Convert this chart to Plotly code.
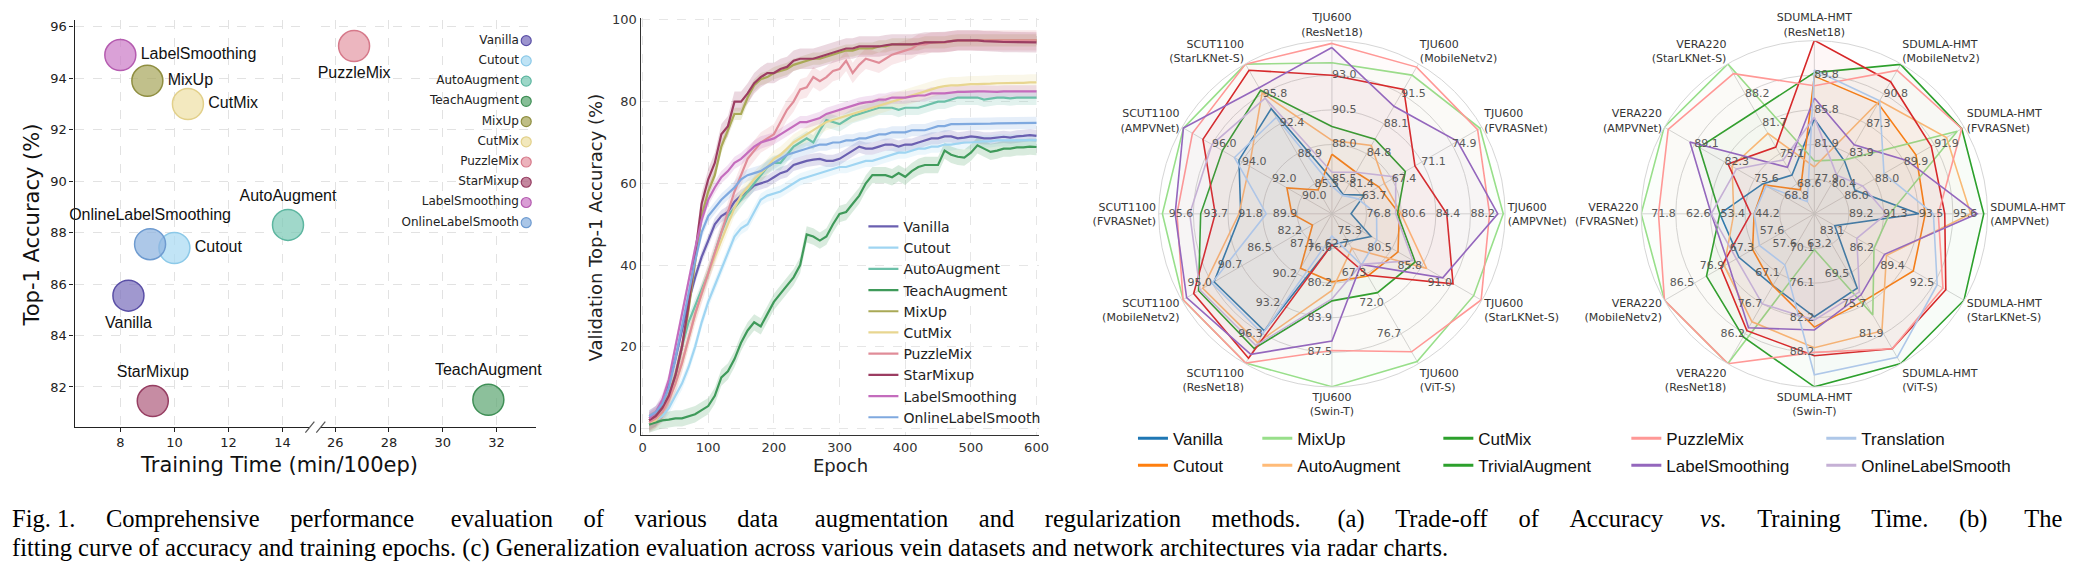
import plotly.graph_objects as go

W, H = 2075, 578
def PX(x): return x / W
def PY(y): return 1 - y / H

SANS = "DejaVu Sans"
ARIAL = "Liberation Sans"
SERIF = "Liberation Serif"

def rgba(h, a):
    h = h.lstrip('#')
    return f"rgba({int(h[0:2],16)},{int(h[2:4],16)},{int(h[4:6],16)},{a})"

# ---------------- Panel (a): accuracy vs training time ----------------
a_names = ["Vanilla", "Cutout", "AutoAugment", "TeachAugment", "MixUp", "CutMix",
           "PuzzleMix", "StarMixup", "LabelSmoothing", "OnlineLabelSmooth"]
a_point_labels = ["Vanilla", "Cutout", "AutoAugment", "TeachAugment", "MixUp", "CutMix",
                  "PuzzleMix", "StarMixup", "LabelSmoothing", "OnlineLabelSmoothing"]
a_time = [8.3, 10.0, 14.2, 31.7, 9.0, 10.5, 26.7, 9.2, 8.0, 9.1]
a_acc = [85.55, 87.4, 88.3, 81.5, 93.9, 93.0, 95.25, 81.45, 94.9, 87.55]
a_fill = ["#7b70bd", "#a9d9f2", "#7cc9b6", "#5fa874", "#a9a85e", "#eee0a6",
          "#e59aa6", "#b0607f", "#cc7dc7", "#8db3df"]
a_edge = ["#5a4fa6", "#8cc9e8", "#5db6a0", "#3f8f56", "#8f8e40", "#e2d08a",
          "#d6798a", "#963e62", "#b55cb0", "#6e9bd0"]
a_textpos = ["bottom center", "middle right", "top center", "top center", "middle right",
             "middle right", "bottom center", "top center", "middle right", "top center"]
a_xticks_left = [8, 10, 12, 14]
a_xticks_right = [26, 28, 30, 32]
a_yticks = [82, 84, 86, 88, 90, 92, 94, 96]

# ---------------- Panel (b): accuracy vs epoch ----------------
b_epochs = list(range(10, 601, 10))
b_names = ["Vanilla", "Cutout", "AutoAugment", "TeachAugment", "MixUp", "CutMix",
           "PuzzleMix", "StarMixup", "LabelSmoothing", "OnlineLabelSmooth"]
b_colors = ["#6a5fb0", "#9fd5f2", "#6cc0a8", "#3f9a5a", "#a9a956", "#e8d690",
            "#e08c98", "#9c3d62", "#c46cbd", "#7fa9df"]
b_vanilla = [2, 3, 6, 11, 17, 24, 31, 37, 42, 46, 50, 52, 53, 55.5, 57, 58, 59.5, 60, 60.5, 61.5,
             62.5, 63, 64.5, 65, 65.5, 65.8, 66, 65.5, 65.5, 66, 67, 68, 69, 68.5, 68.5, 69, 69.5, 69.5, 69, 69.5,
             69.5, 70, 70.5, 71, 71, 71.5, 71.5, 71, 71.2, 71.5, 71.3, 71, 71, 71.2, 71.4, 71.2, 71.5, 71.6, 71.8, 71.6]
b_cutout = [1.5, 2, 3, 5, 8, 11, 15, 20, 26, 31, 35, 39, 43, 47, 49, 50, 53, 56, 57, 57.5,
            58, 59, 60, 61, 61.5, 62, 62.5, 63, 63.5, 64, 64, 64.5, 65, 65.5, 65.5, 66, 66.5, 67, 67.5, 67.5,
            68, 68.5, 68.5, 69, 69, 69.5, 69.5, 69.8, 70, 70, 70.2, 70.3, 70.3, 70.5, 70.5, 70.5, 70.6, 70.6, 70.6, 70.6]
b_autoaug = [1, 2, 4, 8, 13, 20, 26, 30, 34, 38, 43, 48, 52, 54, 56, 58, 60, 62, 64, 65,
             65, 67, 69, 70, 71, 70, 73, 75.5, 75, 74.5, 75.5, 76.5, 77, 77.5, 78, 78.5, 78.5, 78.5, 78, 78.5,
             78.5, 78.5, 79, 79.5, 80, 80, 80.5, 81, 81, 81, 81, 80.5, 80.8, 81, 81, 80.8, 81, 81, 81, 81]
b_teach = [1, 1.5, 2, 2.2, 2.5, 2.5, 3, 3.5, 4.5, 5.5, 8, 12.5, 14, 17, 21, 24, 26, 25, 28, 31,
           33, 35, 37, 40, 47.5, 47, 46, 47, 50, 52.5, 53, 55, 57, 60, 62, 62, 62, 61.5, 62.5, 61.6,
           63, 64, 64.5, 64.5, 64.5, 68, 67, 66.5, 66.3, 67.5, 69.3, 68.5, 67.7, 68, 68.5, 68.5, 68.8, 68.8, 69, 68.9]
b_mixup = [2, 3, 5, 8, 13, 20, 29, 40, 52, 58, 62, 69, 73, 77, 77, 81, 84, 85.5, 86, 87,
           87.5, 88, 89, 89.5, 90, 90.5, 90.5, 91, 91.5, 92, 92.5, 92.5, 93, 93, 93, 93.5, 93.5, 94, 94, 94,
           94, 94, 94.5, 94.5, 94.5, 94.5, 94.8, 95, 95, 95, 95, 95, 95, 95, 95, 95, 95, 95, 95, 95]
b_cutmix = [1.5, 2, 4, 7, 11, 16, 22, 28, 33, 38, 42, 46, 50, 54, 57, 59, 61, 62.5, 64, 66,
            67, 68.5, 70, 71, 72, 73, 74, 75, 75.5, 76, 76.5, 77, 77.5, 78, 78.5, 79, 79.5, 80, 80.5, 81,
            81.5, 82, 82.5, 83, 83.5, 83.8, 84, 84, 84.2, 84.3, 84.3, 84.3, 84.4, 84.5, 84.5, 84.5, 84.6, 84.6, 84.7, 84.7]
b_puzzle = [1.5, 2.5, 4, 7, 11, 16, 22, 28, 33, 38, 43, 48, 53, 58, 62, 66, 68, 70, 71, 72,
            75, 78, 80, 83, 83.5, 86, 85, 86, 87.5, 88, 90, 87, 89, 90.5, 90, 89.5, 90.5, 91.5, 92, 92.5,
            93, 94, 94, 94.5, 94.5, 94.5, 94.8, 95, 95, 95, 95, 95, 95, 95, 95, 95, 95, 95, 95, 95]
b_starmix = [2, 3, 5, 8, 13, 20, 30, 42, 55, 61, 65, 72, 74, 80, 80, 82, 84.5, 86, 87, 87,
             88, 88.5, 90, 90.5, 90.5, 90.5, 91, 91.5, 92, 92.5, 93, 93, 93.5, 93.5, 93.5, 93.5, 93.8, 94, 94, 94,
             94, 94.2, 94.5, 94.5, 94.5, 94.6, 94.8, 95, 95, 95, 95, 94.8, 94.8, 94.7, 94.6, 94.6, 94.6, 94.5, 94.5, 94.5]
b_labelsm = [2.5, 4, 7, 12, 20, 28, 36, 44, 51, 56, 59, 61.5, 63, 65, 66, 67.5, 69, 70, 70.5, 71,
             72, 73, 74, 75, 75, 75.5, 76, 77, 77.5, 78, 78.5, 79, 79.5, 79.8, 80, 80.5, 80.5, 81, 81, 81,
             81.3, 81.5, 81.5, 82, 82, 82, 82.2, 82.4, 82.4, 82.5, 82.5, 82.5, 82.4, 82.4, 82.5, 82.5, 82.5, 82.5, 82.5, 82.5]
b_onlinels = [3, 4, 6, 10, 17, 25, 33, 41, 48, 52, 54, 56, 57.5, 59, 61, 62, 62.5, 63, 64, 65,
              66, 67, 67.5, 68, 68.5, 69, 69.5, 69.5, 70, 70, 70.5, 70.5, 71, 71, 71.5, 72, 72, 72.5, 72.5, 72.5,
              73, 73, 73, 73.5, 74, 74, 74.5, 74.5, 74.5, 74.5, 74.6, 74.6, 74.6, 74.7, 74.7, 74.7, 74.8, 74.8, 74.8, 74.8]
b_series = [b_vanilla, b_cutout, b_autoaug, b_teach, b_mixup, b_cutmix, b_puzzle, b_starmix, b_labelsm, b_onlinels]
b_std = [1.5, 1.5, 1.8, 2.0, 1.5, 2.0, 2.5, 2.5, 1.5, 1.5]

# ---------------- Panel (c): radar charts ----------------
r_methods = ["Vanilla", "Cutout", "MixUp", "AutoAugment", "CutMix", "TrivialAugment",
             "PuzzleMix", "LabelSmoothing", "Translation", "OnlineLabelSmooth"]
r_line_colors = ["#1f77b4", "#ff7f0e", "#98df8a", "#ffbb78", "#2ca02c", "#d62728",
                 "#ff9896", "#9467bd", "#aec7e8", "#c5b0d5"]
r_legend_colors = ["#1f77b4", "#ff7f0e", "#98df8a", "#ffbb78", "#2ca02c", "#2ca02c",
                   "#ff9896", "#9467bd", "#aec7e8", "#c5b0d5"]

r1_axes = ["TJU600<br>(ResNet18)", "TJU600<br>(MobileNetv2)", "TJU600<br>(FVRASNet)", "TJU600<br>(AMPVNet)",
           "TJU600<br>(StarLKNet-S)", "TJU600<br>(ViT-S)", "TJU600<br>(Swin-T)", "SCUT1100<br>(ResNet18)",
           "SCUT1100<br>(MobileNetv2)", "SCUT1100<br>(FVRASNet)", "SCUT1100<br>(AMPVNet)", "SCUT1100<br>(StarLKNet-S)"]
r1_ticks = [[85.5, 88.0, 90.5, 93.0], [81.4, 84.8, 88.1, 91.5], [63.7, 67.4, 71.1, 74.9], [76.8, 80.6, 84.4, 88.2],
            [75.3, 80.5, 85.8, 91.0], [62.7, 67.3, 72.0, 76.7], [76.6, 80.2, 83.9, 87.5], [87.1, 90.2, 93.2, 96.3],
            [82.2, 86.5, 90.7, 95.0], [89.9, 91.8, 93.7, 95.6], [90.0, 92.0, 94.0, 96.0], [85.5, 88.9, 92.4, 95.8]]
r1_values = [
    [85.5, 80.2, 64.0, 75.1, 76.9, 62.3, 76.2, 96.0, 94.7, 93.0, 94.2, 94.1],   # Vanilla
    [87.3, 82.7, 65.8, 80.4, 81.6, 67.7, 80.1, 89.6, 80.7, 90.2, 91.0, 84.8],   # Cutout
    [93.9, 93.6, 78.4, 91.8, 94.8, 81.0, 91.1, 99.3, 99.1, 97.3, 97.9, 99.2],   # MixUp
    [88.3, 85.7, 66.5, 80.6, 86.6, 63.4, 81.0, 97.2, 96.3, 93.1, 93.5, 95.9],   # AutoAugment
    [89.3, 86.4, 69.1, 80.2, 84.6, 70.3, 82.1, 97.8, 96.9, 95.2, 95.3, 96.2],   # CutMix
    [93.0, 92.0, 70.3, 85.6, 91.2, 67.6, 76.2, 98.8, 97.6, 94.4, 96.6, 98.5],   # TrivialAugment
    [95.3, 94.5, 78.1, 90.3, 96.1, 79.5, 87.3, 99.3, 99.1, 96.5, 97.3, 99.2],   # PuzzleMix
    [95.0, 90.1, 75.6, 91.2, 89.4, 65.9, 86.3, 98.4, 98.6, 96.6, 97.9, 96.5],   # LabelSmoothing
    [85.0, 80.1, 63.2, 77.9, 77.9, 66.0, 75.3, 96.3, 95.0, 91.6, 94.5, 93.1],   # Translation
    [86.0, 82.7, 67.9, 80.0, 84.2, 65.9, 81.9, 97.5, 96.7, 95.8, 96.0, 95.3],   # OnlineLabelSmooth
]

r2_axes = ["SDUMLA-HMT<br>(ResNet18)", "SDUMLA-HMT<br>(MobileNetv2)", "SDUMLA-HMT<br>(FVRASNet)",
           "SDUMLA-HMT<br>(AMPVNet)", "SDUMLA-HMT<br>(StarLKNet-S)", "SDUMLA-HMT<br>(ViT-S)",
           "SDUMLA-HMT<br>(Swin-T)", "VERA220<br>(ResNet18)", "VERA220<br>(MobileNetv2)",
           "VERA220<br>(FVRASNet)", "VERA220<br>(AMPVNet)", "VERA220<br>(StarLKNet-S)"]
r2_ticks = [[77.9, 81.9, 85.8, 89.8], [80.4, 83.9, 87.3, 90.8], [86.0, 88.0, 89.9, 91.9], [89.2, 91.3, 93.5, 95.6],
            [83.1, 86.2, 89.4, 92.5], [63.2, 69.5, 75.7, 81.9], [70.1, 76.1, 82.2, 88.2], [57.6, 67.1, 76.7, 86.2],
            [57.6, 67.3, 76.9, 86.5], [44.2, 53.4, 62.6, 71.8], [68.8, 75.6, 82.3, 89.1], [68.6, 75.1, 81.7, 88.2]]
r2_values = [
    [84.8, 83.0, 86.7, 93.5, 82.1, 72.4, 82.0, 70.9, 72.2, 60.1, 73.7, 70.5],   # Vanilla
    [89.7, 89.7, 90.7, 93.9, 90.3, 75.0, 83.8, 70.9, 67.8, 51.0, 73.3, 67.3],   # Cutout
    [80.0, 83.2, 93.4, 91.7, 86.2, 78.0, 70.3, 95.7, 96.1, 81.0, 95.9, 94.7],   # MixUp
    [79.3, 90.0, 92.7, 96.7, 87.5, 81.3, 87.4, 82.4, 76.9, 56.4, 80.6, 79.6],   # AutoAugment
    [90.1, 94.2, 93.7, 97.5, 95.6, 88.1, 94.2, 87.2, 82.6, 60.1, 88.0, 84.4],   # CutMix
    [93.8, 92.2, 91.7, 95.1, 93.7, 85.0, 88.8, 85.2, 78.0, 51.9, 81.5, 76.6],   # TrivialAugment
    [88.6, 93.5, 93.7, 94.7, 93.4, 85.0, 88.2, 95.7, 96.1, 76.4, 95.0, 92.6],   # PuzzleMix
    [87.2, 84.9, 90.1, 97.1, 87.3, 73.8, 84.3, 84.3, 75.6, 62.4, 90.1, 72.2],   # LabelSmoothing
    [90.4, 90.0, 88.6, 94.4, 92.8, 86.8, 92.1, 64.3, 65.6, 51.0, 72.9, 64.7],   # Translation
    [85.0, 81.4, 87.2, 91.5, 84.4, 73.2, 82.6, 76.7, 73.0, 62.4, 79.6, 73.8],   # OnlineLabelSmooth
]

caption_head = "Fig. 1."
caption_1 = ("Comprehensive performance evaluation of various data augmentation and regularization "
             "methods. (a) Trade-off of Accuracy <i>vs.</i> Training Time. (b) The")
caption_2 = ("fitting curve of accuracy and training epochs. (c) Generalization evaluation across various "
             "vein datasets and network architectures via radar charts.")

fig = go.Figure()

# ---------- Panel (a) traces ----------
for side, xa, ya in (("left", "x", "y"), ("right", "x2", "y2")):
    idx = [i for i in range(len(a_names)) if (a_time[i] < 20) == (side == "left")]
    fig.add_trace(go.Scatter(
        x=[a_time[i] for i in idx], y=[a_acc[i] for i in idx],
        mode="markers+text", text=[a_point_labels[i] for i in idx],
        textposition=[a_textpos[i] for i in idx],
        textfont=dict(family=ARIAL, size=16, color="#111"),
        marker=dict(size=31, color=[rgba(a_fill[i], 0.72) for i in idx],
                    line=dict(color=[a_edge[i] for i in idx], width=1.5)),
        xaxis=xa, yaxis=ya, showlegend=False, cliponaxis=False, hoverinfo="skip"))

# custom legend for panel (a): label on the left, marker on the right
fig.add_trace(go.Scatter(
    x=[0] * len(a_names), y=list(range(len(a_names))), mode="markers+text",
    text=a_names, textposition="middle left",
    textfont=dict(family=SANS, size=12, color="#222"),
    marker=dict(size=10, color=[rgba(c, 0.75) for c in a_fill],
                line=dict(color=a_edge, width=1.2)),
    xaxis="x3", yaxis="y3", showlegend=False, cliponaxis=False, hoverinfo="skip"))

# ---------- Panel (b) traces ----------
for name, col, vals, sd in zip(b_names, b_colors, b_series, b_std):
    upper = [v + sd for v in vals]
    lower = [v - sd for v in vals]
    fig.add_trace(go.Scatter(
        x=b_epochs + b_epochs[::-1], y=upper + lower[::-1], fill="toself",
        fillcolor=rgba(col, 0.2), line=dict(width=0), mode="lines",
        xaxis="x4", yaxis="y4", showlegend=False, hoverinfo="skip", legendgroup=name))
for name, col, vals in zip(b_names, b_colors, b_series):
    fig.add_trace(go.Scatter(
        x=b_epochs, y=vals, mode="lines", name=name, line=dict(color=col, width=2.2),
        xaxis="x4", yaxis="y4", legendgroup=name, legend="legend"))

# ---------- Panel (c) traces ----------
def ring(v, t):
    return 1 + 3 * (v - t[0]) / (t[3] - t[0])

for subplot, axes, ticks, values in (("polar", r1_axes, r1_ticks, r1_values),
                                     ("polar2", r2_axes, r2_ticks, r2_values)):
    for m, col, vals in zip(r_methods, r_line_colors, values):
        rr = [ring(v, t) for v, t in zip(vals, ticks)]
        fig.add_trace(go.Scatterpolar(
            r=rr + rr[:1], theta=axes + axes[:1], mode="lines", fill="toself",
            fillcolor=rgba(col, 0.035), line=dict(color=col, width=1.6),
            subplot=subplot, showlegend=False, hoverinfo="skip"))
    # per-axis scale labels
    tr, tth, ttx, tpos = [], [], [], []
    n = len(axes)
    for i, (ax, t) in enumerate(zip(axes, ticks)):
        ang = (90 - 360 * i / n) % 360
        pos = "middle right" if ang < 180 else "middle left"
        for val in t:
            tr.append(ring(val, t))
            tth.append(ax)
            ttx.append(f"{val:.1f}")
            tpos.append(pos)
    fig.add_trace(go.Scatterpolar(
        r=tr, theta=tth, text=ttx, mode="text", textposition=tpos,
        textfont=dict(family=SANS, size=11, color="#5a5a5a"),
        subplot=subplot, showlegend=False, hoverinfo="skip", cliponaxis=False))

# radar legend entries (5 columns x 2 rows)
legend_cols = [["Vanilla", "Cutout"], ["MixUp", "AutoAugment"], ["CutMix", "TrivialAugment"],
               ["PuzzleMix", "LabelSmoothing"], ["Translation", "OnlineLabelSmooth"]]
legend_x = [1142, 1267, 1449, 1638, 1834]
for ci, col_items in enumerate(legend_cols):
    lg = f"legend{ci + 2}"
    for m in col_items:
        j = r_methods.index(m)
        fig.add_trace(go.Scatterpolar(
            r=[None], theta=[r1_axes[0]], mode="lines", name=m,
            line=dict(color=r_legend_colors[j], width=3), subplot="polar",
            legend=lg, legendgroup=m, showlegend=True, hoverinfo="skip"))

# ---------- Layout ----------
grid = "#e2e2e2"
axis_common = dict(showline=True, linecolor="#222", linewidth=1.3, ticks="outside", ticklen=4,
                   tickcolor="#222", showgrid=True, gridcolor=grid, griddash="dash", zeroline=False,
                   tickfont=dict(family=SANS, size=13, color="#222"))

def polar_layout(xdom, cats):
    return dict(
        domain=dict(x=xdom, y=[PY(386), PY(36)]),
        bgcolor="rgba(0,0,0,0)", gridshape="circular",
        radialaxis=dict(range=[0, 5], tickvals=[1, 2, 3, 4, 5], showticklabels=False, ticks="",
                        showline=False, gridcolor="#d6d6d6", gridwidth=1),
        angularaxis=dict(direction="clockwise", rotation=90, type="category", categoryorder="array",
                         categoryarray=cats, tickfont=dict(family=SANS, size=11, color="#333"),
                         gridcolor="#d6d6d6", linecolor="#d6d6d6", showline=True, ticks=""))

layout = dict(
    width=W, height=H, margin=dict(l=0, r=0, t=0, b=0),
    paper_bgcolor="white", plot_bgcolor="rgba(0,0,0,0)",
    xaxis=dict(domain=[PX(73), PX(309)], range=[6.31, 14.99], tickvals=a_xticks_left, anchor="y", **axis_common),
    yaxis=dict(domain=[PY(426), PY(15)], range=[80.46, 96.27], tickvals=a_yticks, anchor="x", **axis_common),
    xaxis2=dict(domain=[PX(321), PX(537)], range=[25.48, 33.48], tickvals=a_xticks_right, anchor="y2", **axis_common),
    yaxis2=dict(domain=[PY(426), PY(15)], range=[80.46, 96.27], tickvals=a_yticks, anchor="x2",
                showticklabels=False, showline=False, ticks="", showgrid=True, gridcolor=grid,
                griddash="dash", zeroline=False),
    xaxis3=dict(domain=[PX(300), PX(527)], range=[-1, 0], anchor="y3", visible=False),
    yaxis3=dict(domain=[PY(220), PY(36)], range=[9, 0], anchor="x3", visible=False),
    xaxis4=dict(domain=[PX(642), PX(1043)], range=[-3, 604.5], tickvals=[0, 100, 200, 300, 400, 500, 600],
                anchor="y4", showline=True, linecolor="#333", linewidth=1.3, ticks="",
                showgrid=True, gridcolor="#e6e6e6", griddash="dash", zeroline=False,
                tickfont=dict(family=SANS, size=13, color="#333")),
    yaxis4=dict(domain=[PY(435), PY(13)], range=[-1.7, 100.5], tickvals=[0, 20, 40, 60, 80, 100],
                anchor="x4", showline=True, linecolor="#333", linewidth=1.3, ticks="",
                showgrid=True, gridcolor="#e6e6e6", griddash="dash", zeroline=False,
                tickfont=dict(family=SANS, size=13, color="#333")),
    polar=polar_layout([PX(1162), PX(1512)], r1_axes),
    polar2=polar_layout([PX(1647), PX(1997)], r2_axes),
    legend=dict(x=PX(866), y=PY(208), xanchor="left", yanchor="top", bgcolor="rgba(0,0,0,0)",
                font=dict(family=SANS, size=14, color="#222"), tracegroupgap=0),
    showlegend=True,
)
for ci, xx in enumerate(legend_x):
    layout[f"legend{ci + 2}"] = dict(x=PX(xx - 5), y=PY(420), xanchor="left", yanchor="top",
                                     bgcolor="rgba(0,0,0,0)", tracegroupgap=2,
                                     font=dict(family=ARIAL, size=17, color="#111"))
fig.update_layout(**layout)

# axis titles and caption
ann = [
    dict(text="Top-1 Accuracy (%)", x=PX(30), y=PY(222), textangle=-90, font=dict(family=SANS, size=21, color="#111")),
    dict(text="Training Time (min/100ep)", x=PX(278), y=PY(465), font=dict(family=SANS, size=21, color="#111")),
    dict(text="Epoch", x=PX(843), y=PY(465), font=dict(family=SANS, size=18, color="#222")),
    dict(text="Validation Top-1 Accuracy (%)", x=PX(597), y=PY(225), textangle=-90,
         font=dict(family=SANS, size=18, color="#222")),
]
for a in ann:
    fig.add_annotation(xref="paper", yref="paper", showarrow=False, xanchor="center", yanchor="middle", **a)

# justified first caption line: widen the word gaps with non-breaking spaces
words = caption_1.split(" ")
parts = [words[0]]
for k, w in enumerate(words[1:]):
    extra = 5 if k % 4 == 1 else 4
    parts.append(" " + "\u00a0" * extra + w)
line1 = caption_head.replace(" ", "\u00a0") + "\u00a0" * 5 + "".join(parts)
fig.add_annotation(xref="paper", yref="paper", x=PX(8), y=PY(519), xanchor="left", yanchor="middle",
                   showarrow=False, text=line1, font=dict(family=SERIF, size=24.5, color="#000"))
fig.add_annotation(xref="paper", yref="paper", x=PX(8), y=PY(549), xanchor="left", yanchor="middle",
                   showarrow=False, text=caption_2, font=dict(family=SERIF, size=24.5, color="#000"))

# axis break marks
for x0 in (305, 316):
    fig.add_shape(type="line", xref="paper", yref="paper", x0=PX(x0), y0=PY(432), x1=PX(x0 + 9), y1=PY(421),
                  line=dict(color="#555", width=1.2))

fig.write_html("out.html")
